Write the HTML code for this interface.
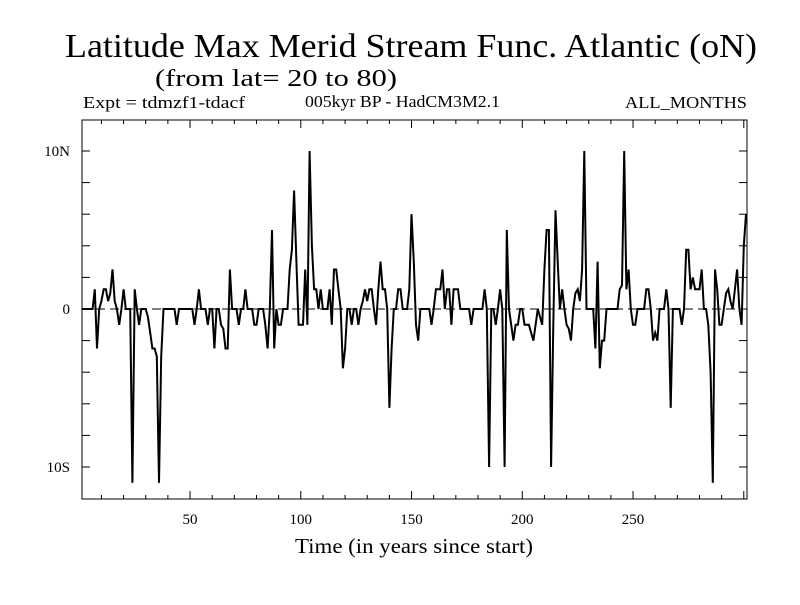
<!DOCTYPE html>
<html><head><meta charset="utf-8"><style>
body{margin:0;background:#fff}
svg text{font-family:"Liberation Serif",serif;fill:#000}
</style></head><body>
<svg id="chart" width="800" height="600" viewBox="0 0 800 600" xmlns="http://www.w3.org/2000/svg">
<text x="65" y="57" font-size="34" textLength="692" lengthAdjust="spacingAndGlyphs">Latitude Max Merid Stream Func. Atlantic (oN)</text>
<text x="155" y="86" font-size="24" textLength="242" lengthAdjust="spacingAndGlyphs">(from lat= 20 to 80)</text>
<text x="83" y="108" font-size="17" textLength="162" lengthAdjust="spacingAndGlyphs">Expt = tdmzf1-tdacf</text>
<text x="305" y="107" font-size="17" textLength="195" lengthAdjust="spacingAndGlyphs">005kyr BP - HadCM3M2.1</text>
<text x="625" y="108" font-size="17" textLength="122" lengthAdjust="spacingAndGlyphs">ALL_MONTHS</text>
<text x="295" y="553" font-size="21" textLength="238" lengthAdjust="spacingAndGlyphs">Time (in years since start)</text>
<g id="axes"></g>
<path id="series" fill="none" stroke="#000" stroke-width="2" stroke-linejoin="miter"/>
</svg>
<script>
const years = [];
const values = [0,0,0,0,0,0,1.25,-2.5,0,0.5,
1.25,1.25,0.5,1,2.5,0.5,0,-1,0,1.25,
0,0,0,-11,1.25,0,-1,0,0,0,
-0.5,-1.5,-2.5,-2.5,-3,-11,-3,0,0,0,
0,0,0,-1,0,0,0,0,0,0,
0,-1,0,1.25,0,0,0,-1,0,0,
-2.5,0,0,-1,-1.25,-2.5,-2.5,2.5,0,0,
0,-1,0,0,1.25,0,0,0,-1,-1,
0,0,0,-1,-2.5,0,5,-2.5,0,-1,
-1,0,0,0,2.5,3.75,7.5,3,-1,-1,
-1,2.5,-1,10,4,1.25,1.25,0,1.25,0,
0,0,1.25,-1,2.5,2.5,1.25,0,-3.75,-2.5,
0,0,-1,0,0,-1,0,0.5,1.25,0.5,
1.25,1.25,0,-1,1.25,3,1.25,1.25,0,-6.25,
-2.5,0,0,1.25,1.25,0,0,0,1.25,6,
3,-1,-2,0,0,0,0,0,-1,0,
1.25,1.25,1.25,2.5,0,1.25,1.25,-1,1.25,1.25,
1.25,0,0,0,0,0,-1,0,0,0,
0,0,1.25,0,-10,0,0,-1,0,1.25,
0,-10,5,0,-1,-2,-1,-1,0,0,
-1,-1,-1,-1.5,-2,-1,0,-0.5,-1,2.5,
5,5,-10,-1,6.25,3,0,1.25,0,-1,
-1.25,-2,0,1,1.25,0.5,2.5,10,0,0,
0,0,-2.5,3,-3.75,-2,-2,0,0,0,
0,0,0,1.25,1.5,10,1.25,2.5,0,-1,
-1,0,0,0,0,1.25,1.25,0,-2,-1.5,
-2,0,0,0,1.25,0,-6.25,0,0,0,
0,-1,0,3.75,3.75,1.25,2,1.25,1.25,1.25,
2.5,0,0,-1,-4,-11,2.5,1.25,-1,-1,
0,1,1.25,0.5,0,1.25,2.5,0,-1,4,6];
for (let i = 0; i < values.length; i++) years.push(i + 1);
const xTicksMajor = [50, 100, 150, 200, 250];
const yTickLabels = ["10S", "0", "10N"];
const yTickLabelValues = [-10, 0, 10];

const X0 = 82, X1 = 747, Y0 = 120, Y1 = 499;
const xScale = yr => 81.5 + (yr - 1) * 2.215;
const yScale = v => 309 - v * 15.8;
const NS = "http://www.w3.org/2000/svg";
const axes = document.getElementById("axes");
function mk(tag, attrs) { const e = document.createElementNS(NS, tag); for (const k in attrs) e.setAttribute(k, attrs[k]); axes.appendChild(e); return e; }

const frame = mk("rect", {x: X0, y: Y0, width: X1 - X0, height: Y1 - Y0, fill: "none", stroke: "#000", "stroke-width": 1});



const zl = mk("line", {x1: X0, x2: X1, y1: yScale(0), y2: yScale(0), stroke: "#000", "stroke-width": 1, "stroke-dasharray": "9,5"});



for (let t = 10; t <= 300; t += 10) {
  const x = xScale(t); if (x > X1) break;
  const len = t % 50 === 0 ? 8 : 4;
  const a = mk("line", {x1: x, x2: x, y1: Y1, y2: Y1 - len, stroke: "#000"});
  
  
  const b = mk("line", {x1: x, x2: x, y1: Y0, y2: Y0 + len, stroke: "#000"});
  
  
}
xTicksMajor.forEach(t => {
  const tx = mk("text", {x: xScale(t), y: 524, "font-size": 15, "text-anchor": "middle"});
  tx.textContent = t;
  
  
});
for (let v = -10; v <= 10; v += 2) {
  const y = yScale(v);
  const a = mk("line", {x1: X0, x2: X0 + 8, y1: y, y2: y, stroke: "#000"});
  
  
  const b = mk("line", {x1: X1, x2: X1 - 8, y1: y, y2: y, stroke: "#000"});
  
  
}
yTickLabels.forEach((lab, i) => {
  const tx = mk("text", {x: 70, y: yScale(yTickLabelValues[i]) + 5, "font-size": 15, "text-anchor": "end"});
  tx.textContent = lab;
  
  
});

let d = "";
values.forEach((v, i) => {
  let x = Math.min(xScale(years[i]), X1);
  d += (i ? "L" : "M") + x.toFixed(1) + "," + yScale(v).toFixed(1);
});
document.getElementById("series").setAttribute("d", d);
</script>
</body></html>
